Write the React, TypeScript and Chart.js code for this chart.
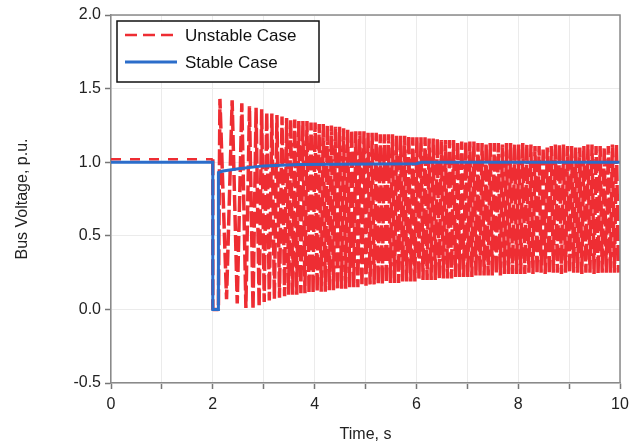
import { useEffect, useRef } from 'react';
import { Chart, registerables } from 'chart.js';

Chart.register(...registerables);

const seriesNames = ['Unstable Case', 'Stable Case'];

const unstableTime = [
  0, 2.0, 2.0, 2.11,
  2.14, 2.27, 2.38, 2.48, 2.57, 2.65, 2.72, 2.79, 2.85, 2.91, 2.96, 3.01, 3.06, 3.11, 3.16, 3.21, 3.26, 3.31, 3.36, 3.41, 3.45,
  3.49, 3.53, 3.57, 3.61, 3.65, 3.69, 3.73, 3.77, 3.81, 3.85,
  3.89, 3.93, 3.97, 4.01, 4.05, 4.09, 4.13, 4.17, 4.21, 4.25,
  4.29, 4.33, 4.37, 4.41, 4.45, 4.49, 4.53, 4.57, 4.61, 4.65,
  4.69, 4.73, 4.77, 4.81, 4.85, 4.89, 4.93, 4.97, 5.01, 5.05,
  5.09, 5.13, 5.17, 5.21, 5.25, 5.29, 5.33, 5.37, 5.41, 5.45,
  5.49, 5.53, 5.57, 5.61, 5.65, 5.69, 5.73, 5.77, 5.81, 5.85,
  5.89, 5.93, 5.97, 6.01, 6.05, 6.09, 6.13, 6.17, 6.21, 6.25,
  6.29, 6.33, 6.37, 6.41, 6.45, 6.49, 6.53, 6.57, 6.61, 6.65,
  6.69, 6.73, 6.77, 6.81, 6.85, 6.89, 6.93, 6.97, 7.01, 7.05,
  7.09, 7.13, 7.17, 7.21, 7.25, 7.29, 7.33, 7.37, 7.41, 7.45,
  7.49, 7.53, 7.57, 7.61, 7.65, 7.69, 7.73, 7.77, 7.81, 7.85,
  7.89, 7.93, 7.97, 8.01, 8.05, 8.09, 8.13, 8.17, 8.21, 8.25,
  8.29, 8.33, 8.37, 8.41, 8.45, 8.49, 8.53, 8.57, 8.61, 8.65,
  8.69, 8.73, 8.77, 8.81, 8.85, 8.89, 8.93, 8.97, 9.01, 9.05,
  9.09, 9.13, 9.17, 9.21, 9.25, 9.29, 9.33, 9.37, 9.41, 9.45,
  9.49, 9.53, 9.57, 9.61, 9.65, 9.69, 9.73, 9.77, 9.81, 9.85,
  9.89, 9.93, 9.97,
];

const unstableVolt = [
  1.02, 1.02, 0.0, 0.0,
  1.43, 0.07, 1.42, 0.04, 1.4, 0.01, 1.38, 0.0, 1.37, 0.02, 1.36, 0.05, 1.34, 0.06, 1.33, 0.07, 1.32, 0.08, 1.31, 0.09, 1.3,
  0.1, 1.29, 0.1, 1.29, 0.1, 1.28, 0.11, 1.28, 0.11, 1.28,
  0.11, 1.27, 0.11, 1.27, 0.12, 1.26, 0.12, 1.26, 0.12, 1.25,
  0.13, 1.25, 0.13, 1.24, 0.13, 1.24, 0.14, 1.23, 0.14, 1.22,
  0.15, 1.22, 0.15, 1.21, 0.15, 1.21, 0.16, 1.21, 0.16, 1.2,
  0.17, 1.2, 0.17, 1.2, 0.17, 1.19, 0.17, 1.19, 0.18, 1.19,
  0.18, 1.19, 0.18, 1.18, 0.18, 1.18, 0.19, 1.18, 0.19, 1.18,
  0.19, 1.17, 0.19, 1.17, 0.2, 1.17, 0.2, 1.17, 0.2, 1.16,
  0.2, 1.16, 0.2, 1.16, 0.21, 1.15, 0.21, 1.15, 0.21, 1.15,
  0.21, 1.15, 0.22, 1.14, 0.22, 1.14, 0.22, 1.14, 0.22, 1.14,
  0.22, 1.14, 0.23, 1.13, 0.23, 1.13, 0.23, 1.13, 0.23, 1.13,
  0.23, 1.13, 0.24, 1.13, 0.23, 1.12, 0.24, 1.13, 0.24, 1.13,
  0.24, 1.12, 0.24, 1.12, 0.24, 1.13, 0.24, 1.12, 0.25, 1.12,
  0.24, 1.11, 0.24, 1.11, 0.25, 1.1, 0.24, 1.1, 0.24, 1.11,
  0.25, 1.12, 0.25, 1.12, 0.24, 1.12, 0.25, 1.11, 0.25, 1.11,
  0.25, 1.1, 0.25, 1.1, 0.24, 1.11, 0.25, 1.12, 0.25, 1.12,
  0.24, 1.11, 0.24, 1.11, 0.25, 1.1, 0.25, 1.11, 0.25, 1.12,
  0.25, 1.12, 0.25,
];

const stableTime = [0, 2.0, 2.0, 2.11, 2.11, 2.2, 2.5, 3.0, 3.7, 6.0, 6.1, 10];
const stableVolt = [1.0, 1.0, 0.0, 0.0, 0.93, 0.94, 0.955, 0.975, 0.985, 0.99, 1.0, 1.0];

const faultTime = 2.0;

const xMin = 0;
const xMax = 10;
const xStep = 1;
const xLabelEvery = 2;
const yMin = -0.5;
const yMax = 2.0;
const yStep = 0.5;

const RED = '#ee2d33';
const BLUE = '#2b6dca';
const FONT = '"Liberation Sans", Arial, Helvetica, sans-serif';

export default function App() {
  const ref = useRef<HTMLCanvasElement>(null);

  useEffect(() => {
    const canvas = ref.current;
    if (!canvas) return;

    const legendPlugin = {
      id: 'boxLegend',
      afterDraw(chart: any) {
        const { ctx, chartArea } = chart;
        const { left, top, right, bottom } = chartArea;
        ctx.save();
        ctx.strokeStyle = '#8a8a8a';
        ctx.lineWidth = 1.5;
        ctx.beginPath();
        ctx.moveTo(left, top);
        ctx.lineTo(right, top);
        ctx.lineTo(right, bottom);
        ctx.stroke();

        const bx = left + 6;
        const by = top + 6;
        const bw = 202;
        const bh = 61;
        ctx.fillStyle = '#ffffff';
        ctx.fillRect(bx, by, bw, bh);
        ctx.strokeStyle = '#111111';
        ctx.lineWidth = 1.5;
        ctx.strokeRect(bx, by, bw, bh);

        const rows = [
          { name: seriesNames[0], color: RED, dash: [12, 6], width: 2.5, y: by + 14 },
          { name: seriesNames[1], color: BLUE, dash: [], width: 3, y: by + 41 },
        ];
        for (const r of rows) {
          ctx.beginPath();
          ctx.setLineDash(r.dash);
          ctx.strokeStyle = r.color;
          ctx.lineWidth = r.width;
          ctx.moveTo(bx + 8, r.y);
          ctx.lineTo(bx + 60, r.y);
          ctx.stroke();
          ctx.setLineDash([]);
          ctx.fillStyle = '#111111';
          ctx.font = `17px ${FONT}`;
          ctx.textAlign = 'left';
          ctx.textBaseline = 'middle';
          ctx.fillText(r.name, bx + 68, r.y + 1);
        }
        ctx.restore();
      },
    };

    const preFault = (c: any) => c.p0.parsed.x < faultTime && c.p1.parsed.x <= faultTime;

    const chart = new Chart(canvas, {
      type: 'line',
      data: {
        datasets: [
          {
            label: seriesNames[0],
            data: unstableTime.map((t, i) => ({ x: t, y: unstableVolt[i] })),
            borderColor: RED,
            backgroundColor: RED,
            borderWidth: 3.5,
            borderDash: [16, 4],
            borderJoinStyle: 'bevel',
            pointRadius: 0,
            tension: 0,
            fill: false,
            order: 1,
            segment: {
              borderDash: (c: any) => (preFault(c) ? [10, 9] : undefined),
              borderWidth: (c: any) => (preFault(c) ? 2.5 : undefined),
            },
          },
          {
            label: seriesNames[1],
            data: stableTime.map((t, i) => ({ x: t, y: stableVolt[i] })),
            borderColor: BLUE,
            backgroundColor: BLUE,
            borderWidth: 3,
            pointRadius: 0,
            tension: 0,
            fill: false,
            order: 0,
          },
        ],
      },
      options: {
        responsive: false,
        animation: false,
        events: [],
        layout: { padding: { top: 15, right: 18, left: 0, bottom: 0 } },
        plugins: {
          legend: { display: false },
          tooltip: { enabled: false },
          title: { display: false },
        },
        scales: {
          x: {
            type: 'linear',
            min: xMin,
            max: xMax,
            afterFit: (scale: any) => {
              scale.height = 62;
            },
            ticks: {
              stepSize: xStep,
              autoSkip: false,
              maxRotation: 0,
              padding: 6,
              color: '#222',
              font: { family: FONT, size: 16 },
              callback: (v: any) => (Number(v) % xLabelEvery === 0 ? String(v) : ''),
            },
            grid: {
              color: '#ebebeb',
              lineWidth: 1,
              tickLength: 6,
              tickColor: '#777',
              tickWidth: 1.5,
            },
            border: { display: true, color: '#8a8a8a', width: 1.5 },
            title: {
              display: true,
              text: 'Time, s',
              color: '#222',
              font: { family: FONT, size: 16 },
              padding: { top: 0, bottom: 1 },
            },
          },
          y: {
            type: 'linear',
            min: yMin,
            max: yMax,
            afterFit: (scale: any) => {
              scale.width = 111;
            },
            ticks: {
              stepSize: yStep,
              autoSkip: false,
              padding: 4,
              color: '#222',
              font: { family: FONT, size: 16 },
              callback: (v: any) => Number(v).toFixed(1),
            },
            grid: {
              color: '#ebebeb',
              lineWidth: 1,
              tickLength: 6,
              tickColor: '#777',
              tickWidth: 1.5,
            },
            border: { display: true, color: '#8a8a8a', width: 1.5 },
            title: {
              display: true,
              text: 'Bus Voltage, p.u.',
              color: '#222',
              font: { family: FONT, size: 16 },
              padding: { top: 13, bottom: 0 },
            },
          },
        },
      },
      plugins: [legendPlugin],
    });

    return () => chart.destroy();
  }, []);

  return (
    <div style={{ position: 'fixed', left: 0, top: 0, width: 638, height: 445, background: '#fff' }}>
      <canvas ref={ref} width={638} height={445} style={{ display: 'block', width: 638, height: 445 }} />
    </div>
  );
}
